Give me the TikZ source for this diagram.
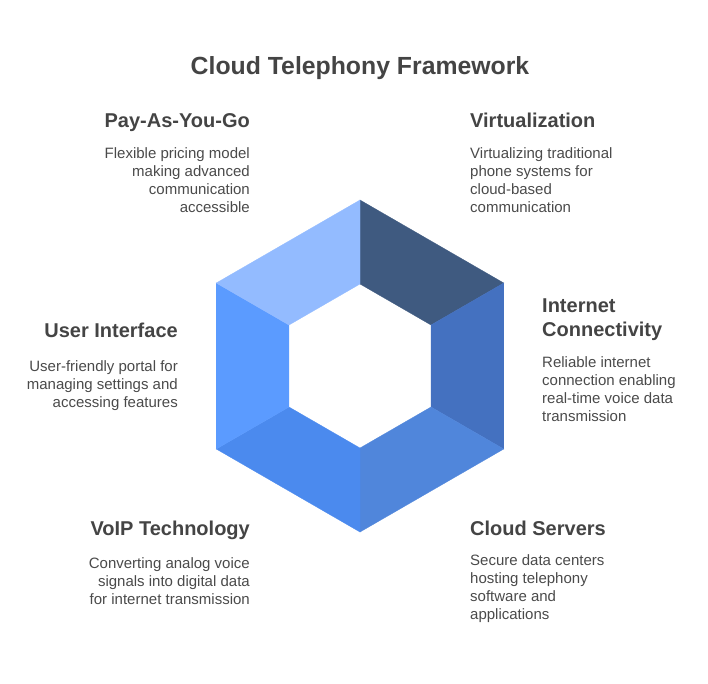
\documentclass[tikz,border=0pt]{standalone}
\usepackage{fontspec}
\setmainfont{Liberation Sans}
\usepackage{tikz}
\usetikzlibrary{calc}
\usetikzlibrary{positioning}

\definecolor{inkgray}{HTML}{444444}
\definecolor{bodygray}{HTML}{4A4A4A}
\definecolor{segnavy}{HTML}{3F5A80}
\definecolor{segsteel}{HTML}{4471C0}
\definecolor{segmid}{HTML}{5086DB}
\definecolor{segbright}{HTML}{4B8AEE}
\definecolor{segsky}{HTML}{5B9BFF}
\definecolor{segpale}{HTML}{93BBFF}

\tikzset{
    title/.style={font=\fontsize{24.8}{29}\selectfont\bfseries, text=inkgray, inner sep=0pt},
    heading/.style={font=\fontsize{20}{24}\selectfont\bfseries, text=inkgray, inner sep=0pt},
    body/.style={font=\fontsize{15}{18}\selectfont, text=bodygray, inner sep=0pt},
    seg/.style={fill=#1, draw=#1, line width=0.3pt, line join=miter}
}

\begin{document}
\begin{tikzpicture}[x=1pt, y=-1pt]

                \def\R{166}
                \def\r{82}

                \useasboundingbox (0, 0) rectangle (708, 683);

                % hexagon corners, outer and inner ring
                \coordinate (c) at (360, 366);
                \foreach \i in {0,...,5}{
                    \coordinate (o\i) at ($(c)+({-90+60*\i}:\R)$);
                    \coordinate (n\i) at ($(c)+({-90+60*\i}:\r)$);
                }

                % Scope for the six ring segments
                \begin{scope}
                    \fill[seg=segnavy]   (o0) -- (o1) -- (n1) -- (n0) -- cycle;
                    \fill[seg=segsteel]  (o1) -- (o2) -- (n2) -- (n1) -- cycle;
                    \fill[seg=segmid]    (o2) -- (o3) -- (n3) -- (n2) -- cycle;
                    \fill[seg=segbright] (o3) -- (o4) -- (n4) -- (n3) -- cycle;
                    \fill[seg=segsky]    (o4) -- (o5) -- (n5) -- (n4) -- cycle;
                    \fill[seg=segpale]   (o5) -- (o0) -- (n0) -- (n5) -- cycle;
                \end{scope}

                \node[title, anchor=base] (head) at (360, 74)
                {Cloud Telephony Framework};

                % left column
                \node[heading, anchor=base east] (pay) at (250, 127)
                {Pay-As-You-Go};
                \node[body, align=right, anchor=north east] (payd) at (250, 147)
                {Flexible pricing model\\making advanced\\communication\\accessible};

                \node[heading, anchor=base east] (ui) at (178, 337)
                {User Interface};
                \node[body, align=right, anchor=north east] (uid) at (178, 360.5)
                {User-friendly portal for\\managing settings and\\accessing features};

                \node[heading, anchor=base east] (voip) at (250, 535)
                {VoIP Technology};
                \node[body, align=right, anchor=north east] (voipd) at (250, 557)
                {Converting analog voice\\signals into digital data\\for internet transmission};

                % right column
                \node[heading, anchor=base west] (virt) at (470, 127)
                {Virtualization};
                \node[body, align=left, anchor=north west] (virtd) at (470, 147)
                {Virtualizing traditional\\phone systems for\\cloud-based\\communication};

                \node[heading, align=left, anchor=north west] (net) at (542, 298.4)
                {Internet\\Connectivity};
                \node[body, align=left, anchor=north west] (netd) at (542, 356)
                {Reliable internet\\connection enabling\\real-time voice data\\transmission};

                \node[heading, anchor=base west] (srv) at (470, 535)
                {Cloud Servers};
                \node[body, align=left, anchor=north west] (srvd) at (470, 554)
                {Secure data centers\\hosting telephony\\software and\\applications};

\end{tikzpicture}
\end{document}
